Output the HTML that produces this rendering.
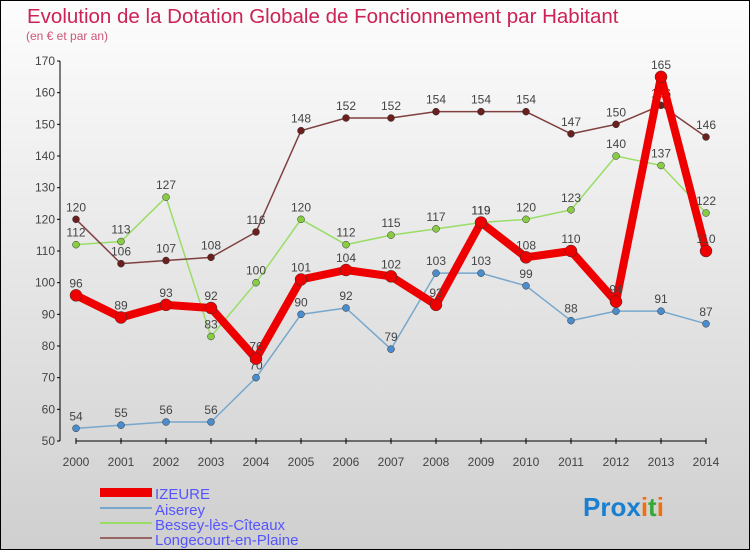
<!DOCTYPE html>
<html><head><meta charset="utf-8"><style>
html,body{margin:0;padding:0}
body{width:750px;height:550px;overflow:hidden;font-family:"Liberation Sans",sans-serif}
#wrap{position:relative;width:748px;height:548px;border:1px solid #000;background:linear-gradient(#fdfdfd,#cfcfcf)}
</style></head><body>
<div id="wrap">
<svg id="svg" width="748" height="548" xmlns="http://www.w3.org/2000/svg">
<text x="26" y="22" font-size="20.5" fill="#cc2255">Evolution de la Dotation Globale de Fonctionnement par Habitant</text>
<text x="25" y="39" font-size="12" fill="#cc5577">(en € et par an)</text>
<g id="axes"></g><g id="series"></g>
<g>
<rect x="99" y="487" width="52" height="9" fill="#ee0000"/>
<text x="154" y="498" font-size="15" fill="#5555ff">IZEURE</text>
<line x1="99" y1="507" x2="151" y2="507" stroke="#77a7cc" stroke-width="2"/>
<text x="154" y="514" font-size="15" fill="#5555ff">Aiserey</text>
<line x1="99" y1="522" x2="151" y2="522" stroke="#99dd66" stroke-width="2"/>
<text x="154" y="529" font-size="15" fill="#5555ff">Bessey-lès-Cîteaux</text>
<line x1="99" y1="537" x2="151" y2="537" stroke="#996666" stroke-width="2"/>
<text x="154" y="544" font-size="15" fill="#5555ff">Longecourt-en-Plaine</text>
</g>
<text x="582" y="515" font-size="26" font-weight="bold"><tspan fill="#1a7fd0">Pro</tspan><tspan fill="#1a7fd0">x</tspan><tspan fill="#f07010">i</tspan><tspan fill="#33aa33">t</tspan><tspan fill="#f07010">i</tspan></text>
</svg></div>
<script>
const years=[2000,2001,2002,2003,2004,2005,2006,2007,2008,2009,2010,2011,2012,2013,2014];
const yTicks=[50,60,70,80,90,100,110,120,130,140,150,160,170];
const izeure=[96,89,93,92,76,101,104,102,93,119,108,110,94,165,110];
const aiserey=[54,55,56,56,70,90,92,79,103,103,99,88,91,91,87];
const bessey=[112,113,127,83,100,120,112,115,117,119,120,123,140,137,122];
const longecourt=[120,106,107,108,116,148,152,152,154,154,154,147,150,156,146];
const NS="http://www.w3.org/2000/svg";
const X=i=>75+i*45, Y=v=>440-(v-50)*380/120;
function mk(t,a,p){const e=document.createElementNS(NS,t);for(const k in a)e.setAttribute(k,a[k]);p.appendChild(e);return e;}
const ax=document.getElementById('axes'), sg=document.getElementById('series');
const yl=mk('line',{x1:59,y1:Y(170),x2:59,y2:440,stroke:'#000'},ax);


const xl=mk('line',{x1:75,y1:440,x2:X(14),y2:440,stroke:'#000'},ax);


yTicks.forEach(v=>{mk('line',{x1:56,y1:Y(v),x2:59,y2:Y(v),stroke:'#000'},ax);
const t=mk('text',{x:54,y:Y(v)+4,'text-anchor':'end','font-size':12,fill:'#444'},ax);t.textContent=v;

});
years.forEach((y,i)=>{mk('line',{x1:X(i),y1:437,x2:X(i),y2:443,stroke:'#000'},ax);
const t=mk('text',{x:X(i),y:465,'text-anchor':'middle','font-size':12,fill:'#444'},ax);t.textContent=y;

});
function series(d,color,w,r,name,dot){
const g=mk('g',{},sg);


mk('polyline',{points:d.map((v,i)=>X(i)+','+Y(v)).join(' '),fill:'none',stroke:color,'stroke-width':w,'stroke-linejoin':'round'},g);
d.forEach((v,i)=>{const c=mk('circle',{cx:X(i),cy:Y(v),r:r,fill:dot,stroke:'#333','stroke-width':0.5},g);


const t=mk('text',{x:X(i),y:Y(v)-8,'text-anchor':'middle','font-size':12,fill:'#444'},g);t.textContent=v;

});}
series(aiserey,'#77a7cc',1.5,3.5,'aiserey','#4a8ccc');
series(bessey,'#99dd66',1.5,3.5,'bessey','#88cc44');
series(longecourt,'#804040',1.5,3.5,'longecourt','#6b2020');
series(izeure,'#ee0000',8,6,'izeure','#ee0000');
</script>
</body></html>
